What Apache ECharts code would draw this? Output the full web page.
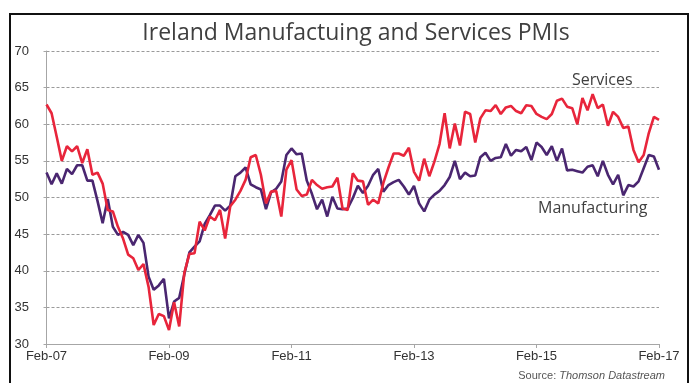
<!DOCTYPE html>
<html>
<head>
<meta charset="utf-8">
<script src="https://cdn.jsdelivr.net/npm/echarts@6/dist/echarts.min.js"></script>
<style>
html,body{margin:0;padding:0;background:#fff;}
#c{width:695px;height:383px;}
</style>
</head>
<body>
<div id="c"></div>
<script>
var monthNames = ['Jan','Feb','Mar','Apr','May','Jun','Jul','Aug','Sep','Oct','Nov','Dec'];
var startYear = 2007, startMonth = 1, nPoints = 121;
var tickLabels = ['Feb-07','Feb-09','Feb-11','Feb-13','Feb-15','Feb-17'];
var yTicks = [30,35,40,45,50,55,60,65,70];

var services = [
62.7,61.5,58.3,55.0,57.0,56.3,57.0,54.7,56.6,53.1,53.4,51.9,
48.3,48.1,46.0,44.4,42.2,41.7,40.1,40.9,37.8,32.6,34.1,33.8,
31.9,35.7,32.4,39.7,42.3,42.4,46.7,45.5,47.4,46.9,48.3,44.4,
48.8,49.7,50.9,52.4,55.5,55.8,53.1,49.2,50.8,50.9,47.4,53.8,
55.1,51.1,50.2,50.4,52.4,51.7,51.2,51.4,51.5,52.7,48.5,48.3,
53.3,52.3,52.2,49.0,49.7,49.2,52.0,54.1,56.0,56.0,55.7,56.8,
53.5,52.3,55.3,52.9,54.9,57.3,61.5,56.7,60.1,57.1,61.7,61.4,
57.5,60.8,61.9,61.8,62.6,61.4,62.3,62.5,61.8,61.5,62.6,62.5,
61.4,61.0,60.7,61.4,63.2,63.5,62.4,62.2,60.0,63.6,61.9,64.1,
62.2,62.7,59.8,61.7,61.0,59.5,59.7,56.5,54.8,55.8,58.8,61.0,
60.6];

var manufacturing = [
53.4,51.8,53.3,51.9,53.9,53.2,54.4,54.4,52.3,52.3,49.5,46.5,
49.8,46.0,44.9,45.3,44.9,43.5,44.9,43.8,39.2,37.4,38.0,38.9,
33.5,35.8,36.3,39.5,42.5,43.3,44.0,46.4,47.6,48.9,48.9,48.2,
48.9,52.9,53.4,54.1,51.8,51.4,51.1,48.4,50.7,51.2,52.2,55.8,
56.7,55.9,56.0,52.3,50.5,48.4,49.7,47.4,50.1,48.5,48.4,48.5,
49.9,51.6,50.6,51.6,53.1,53.9,50.8,51.7,52.1,52.4,51.5,50.4,
51.6,49.2,48.1,49.7,50.4,50.9,51.7,52.8,55.0,52.5,53.4,52.9,
53.0,55.5,56.1,55.0,55.4,55.5,57.3,55.7,56.5,56.3,56.9,55.1,
57.5,56.9,55.8,57.0,55.0,56.7,53.7,53.8,53.6,53.4,54.2,54.4,
52.9,55.0,53.1,51.8,53.1,50.3,51.7,51.5,52.2,54.0,55.8,55.6,
53.8];

var categories = [];
for (var i = 0; i < nPoints; i++) {
  var m = (startMonth + i) % 12;
  var y = startYear + Math.floor((startMonth + i) / 12);
  categories.push(monthNames[m] + '-' + String(y).slice(2));
}

var chart = echarts.init(document.getElementById('c'), null, {renderer:'canvas'});
var font = '"Open Sans", Lato, sans-serif';
var axisFont = '"Liberation Sans", Arial, sans-serif';
chart.setOption({
  animation: false,
  backgroundColor: '#fff',
  title: {
    text: 'Ireland Manufactuing and Services PMIs',
    left: 351, top: 17, textAlign: 'center',
    textStyle: {fontFamily: font, fontSize: 23, fontWeight: 'normal', color: '#3f3f3f'}
  },
  grid: {left: 46.5, right: 36, top: 51, bottom: 39, containLabel: false},
  xAxis: {
    type: 'category', data: categories, boundaryGap: false,
    axisLine: {lineStyle: {color: '#a6a6a6', width: 1}},
    axisTick: {show: true, interval: 23, length: 4, lineStyle: {color: '#a6a6a6'}},
    axisLabel: {
      interval: 23, margin: 6, color: '#333', fontFamily: axisFont, fontSize: 13,
      formatter: function (v, idx) { return tickLabels[Math.round(idx / 24)] || v; }
    },
    splitLine: {show: false}
  },
  yAxis: {
    type: 'value', min: yTicks[0], max: yTicks[yTicks.length - 1], interval: 5,
    axisLine: {show: true, lineStyle: {color: '#a6a6a6'}},
    axisTick: {show: true, length: 3, lineStyle: {color: '#a6a6a6'}},
    axisLabel: {align: 'left', margin: 32, color: '#333', fontFamily: axisFont, fontSize: 13},
    splitLine: {show: true, lineStyle: {color: '#9a9a9a', type: [3, 2], width: 1}}
  },
  series: [
    {name: 'Manufacturing', type: 'line', data: manufacturing, showSymbol: false, symbol: 'none',
     lineStyle: {color: '#4a2670', width: 2.6}, z: 3},
    {name: 'Services', type: 'line', data: services, showSymbol: false, symbol: 'none',
     lineStyle: {color: '#e8253b', width: 2.6}, z: 4}
  ],
  graphic: [
    {type: 'rect', shape: {x: 10, y: 14, width: 678, height: 390}, style: {fill: 'none', stroke: '#111', lineWidth: 2}, z: 10},
    {type: 'text', left: 572, top: 72, style: {text: 'Services', fontFamily: font, fontSize: 16, fill: '#404040'}},
    {type: 'text', left: 538, top: 200, style: {text: 'Manufacturing', fontFamily: font, fontSize: 16, fill: '#404040'}},
    {type: 'text', right: 30, top: 370, style: {
      text: '{n|Source: }{i|Thomson Datastream}',
      rich: {n: {fontFamily: axisFont, fontSize: 11, fill: '#555'},
             i: {fontFamily: axisFont, fontSize: 11, fontStyle: 'italic', fill: '#555'}}
    }}
  ]
});
</script>
</body>
</html>
